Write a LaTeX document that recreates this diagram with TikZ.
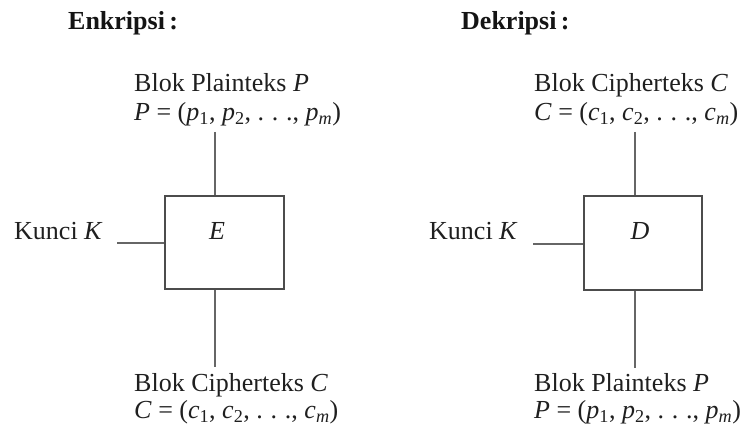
\documentclass[tikz,border=0pt]{standalone}
\usepackage{fontspec}
\setmainfont{Liberation Serif}
\newcommand{\subsc}[2]{\textit{#1}\textsubscript{#2}}
\newcommand{\wdots}{\makebox[1.35em][s]{.\hfill.\hfill.}}
\begin{document}
\begin{tikzpicture}[x=1pt,y=-1pt,
  txt/.style={font=\fontsize{26}{30}\selectfont, inner sep=0pt, anchor=base west, text=black!88},
  ttl/.style={font=\fontsize{26}{30}\selectfont\bfseries, inner sep=0pt, anchor=base west, text=black!92},
  lbl/.style={font=\fontsize{26}{30}\selectfont\itshape, inner sep=0pt, anchor=base, text=black!88},
  wire/.style={draw=black!60, line width=1.3pt},
  blk/.style={draw=black!70, line width=1.3pt, inner sep=0pt}]
\useasboundingbox (0,0) rectangle (745,430);

% ---------- Enkripsi ----------
\node[ttl] (tE) at (68,30) {Enkripsi\,:};
\node[txt] (inA) at (134,92) {Blok Plainteks \textit{P}};
\node[txt] (inB) at (134,121) {\textit{P} = (\subsc{p}{1}, \subsc{p}{2}, \wdots, \subsc{p}{\textit{m}})};
\node[blk, minimum width=119pt, minimum height=93pt] (boxE) at (224.5,242.5) {};
\node[lbl] (labE) at (217,240) {E};
\node[txt] (keyE) at (14,240) {Kunci \textit{K}};
\node[txt] (outA) at (134,392) {Blok Cipherteks \textit{C}};
\node[txt] (outB) at (134,419) {\textit{C} = (\subsc{c}{1}, \subsc{c}{2}, \wdots, \subsc{c}{\textit{m}})};

\coordinate (eTop) at (215,132);
\coordinate (eBot) at (215,367);
\coordinate (eKey) at (117,243);
\draw[wire] (eTop) -- (eTop |- boxE.north);
\draw[wire] (eBot |- boxE.south) -- (eBot);
\draw[wire] (eKey) -- (eKey -| boxE.west);

% ---------- Dekripsi ----------
\node[ttl] (tD) at (461,30) {Dekripsi\,:};
\node[txt] (inC) at (534,92) {Blok Cipherteks \textit{C}};
\node[txt] (inD) at (534,121) {\textit{C} = (\subsc{c}{1}, \subsc{c}{2}, \wdots, \subsc{c}{\textit{m}})};
\node[blk, minimum width=118pt, minimum height=94pt] (boxD) at (643,243) {};
\node[lbl] (labD) at (640,240) {D};
\node[txt] (keyD) at (429,240) {Kunci \textit{K}};
\node[txt] (outC) at (534,392) {Blok Plainteks \textit{P}};
\node[txt] (outD) at (534,419) {\textit{P} = (\subsc{p}{1}, \subsc{p}{2}, \wdots, \subsc{p}{\textit{m}})};

\coordinate (dTop) at (635,132);
\coordinate (dBot) at (635,368);
\coordinate (dKey) at (533,244);
\draw[wire] (dTop) -- (dTop |- boxD.north);
\draw[wire] (dBot |- boxD.south) -- (dBot);
\draw[wire] (dKey) -- (dKey -| boxD.west);
\end{tikzpicture}
\end{document}
